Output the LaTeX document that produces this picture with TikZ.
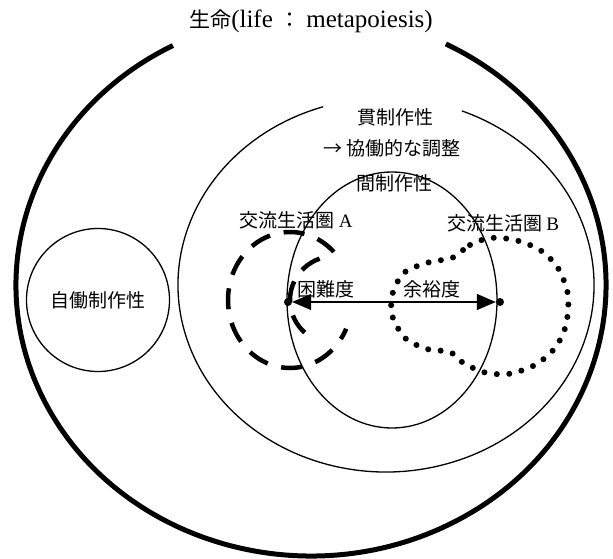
\documentclass[tikz,border=0pt]{standalone}
\usepackage{fontspec}
\setmainfont{Liberation Serif}
\newfontfamily\jp{Noto Sans CJK JP}
\usetikzlibrary{shapes.geometric,arrows.meta}
\begin{document}
\begin{tikzpicture}[x=1pt,y=-1pt,
  lbl/.style={inner sep=0pt, font=\fontsize{19}{19}\selectfont\jp},
  thinline/.style={line width=1.3pt},
  dashA/.style={line width=4.5pt, dash pattern=on 21pt off 14pt},
  dotB/.style={line width=6pt, line cap=round, dash pattern=on 0pt off 12.5pt},
  enddot/.style={circle, fill, inner sep=0pt, minimum size=8pt},
  >={Triangle[length=19pt,width=16pt]}]
\useasboundingbox (0,0) rectangle (613,559);

% outer ellipse: life
\draw[line width=5pt] (311,285) ++(-117.9:295 and 271)
  arc[start angle=-117.9, end angle=-422.8, x radius=295, y radius=271];
\node[inner sep=0pt] (title) at (311,21)
  {\fontsize{25}{25}\selectfont{\jp\fontsize{21}{21}\selectfont 生命}(life {\jp\fontsize{21}{21}\selectfont ：} metapoiesis)};

% middle ellipse
\draw[thinline] (386,285) ++(-107.6:208 and 187)
  arc[start angle=-107.6, end angle=-428.6, x radius=208, y radius=187];
\node[lbl] (kan) at (395,117) {貫制作性};
\node[lbl] (kyodo) at (392,148) {→ 協働的な調整};

% inner ellipse
\draw[thinline] (392,300) ellipse [x radius=105, y radius=128];
\node[lbl] (kan2) at (394,183) {間制作性};

% autopoiesis circle
\node[circle, draw, thinline, minimum size=143pt, inner sep=0pt, lbl] (auto) at (98,300) {自働制作性};

% life sphere A (dashed)
\draw[dashA] (290,300) ++(-45:62 and 68)
  arc[start angle=-45, end angle=-335, x radius=62, y radius=68];
\draw[dashA] (335,300) ++(-110:45 and 44)
  arc[start angle=-110, end angle=-245, x radius=45, y radius=44];
\node[lbl] (spA) at (296,220) {交流生活圏 {\rmfamily A}};

% life sphere B (dotted)
\draw[dotB] plot[smooth cycle] coordinates {(452,258) (470,245) (490,238) (515,240) (540,250) (558,268) (568,295) (566,325) (555,348) (535,365) (508,374) (483,372) (462,362) (450,352) (427,349) (405,338) (392,315) (393,292) (405,272) (430,262)};
\node[lbl] (spB) at (503,223) {交流生活圏 {\rmfamily B}};

% arrow
\node[enddot] (dL) at (288,302) {};
\node[enddot] (dR) at (500,302) {};
\draw[thinline, <->] (dL) -- (dR);
\node[lbl] (kon) at (326,289) {困難度};
\node[lbl] (yoyu) at (432,289) {余裕度};
\end{tikzpicture}
\end{document}
